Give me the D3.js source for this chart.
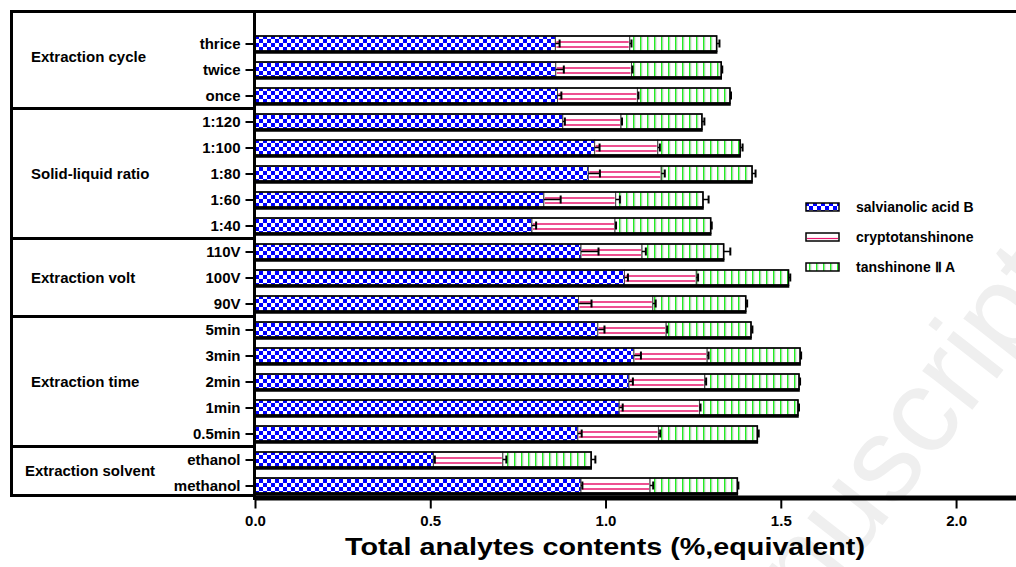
<!DOCTYPE html>
<html>
<head>
<meta charset="utf-8">
<script src="https://cdn.jsdelivr.net/npm/d3@7"></script>
<style>
  body { margin: 0; background: #fff; }
  svg { display: block; font-family: "Liberation Sans", Arial, sans-serif; font-weight: bold; }
</style>
</head>
<body>
<svg id="chart" width="1016" height="567"></svg>
<script>
"use strict";

// rows, top to bottom
const categories = ["thrice", "twice", "once", "1:120", "1:100", "1:80", "1:60", "1:40",
	"110V", "100V", "90V", "5min", "3min", "2min", "1min", "0.5min", "ethanol", "methanol"];
const groupNames = ["Extraction cycle", "Solid-liquid ratio", "Extraction volt", "Extraction time", "Extraction solvent"];
const groupSizes = [3, 5, 3, 5, 2];

// segment values (%), stacked left to right
const salvianolicB = [0.857, 0.858, 0.863, 0.878, 0.969, 0.951, 0.824, 0.790,
	0.930, 1.054, 0.923, 0.978, 1.081, 1.067, 1.039, 0.921, 0.509, 0.930];
const cryptotanshinone = [0.212, 0.216, 0.228, 0.166, 0.180, 0.208, 0.205, 0.237,
	0.174, 0.205, 0.212, 0.195, 0.209, 0.216, 0.229, 0.230, 0.198, 0.197];
const tanshinoneIIA = [0.248, 0.256, 0.264, 0.231, 0.235, 0.259, 0.249, 0.273,
	0.233, 0.263, 0.265, 0.242, 0.265, 0.269, 0.281, 0.282, 0.252, 0.249];

// error bars (positive side only)
const salvianolicBErr = [0.012, 0.023, 0.011, 0.006, 0.014, 0.033, 0.048, 0.012,
	0.050, 0.010, 0.037, 0.019, 0.020, 0.011, 0.010, 0.011, 0.004, 0.004];
const cryptotanshinoneErr = [0.005, 0.003, 0.003, 0.003, 0.006, 0.010, 0.012, 0.003,
	0.011, 0.005, 0.008, 0.003, 0.004, 0.004, 0.003, 0.005, 0.010, 0.009];
const tanshinoneIIAErr = [0.008, 0.003, 0.003, 0.007, 0.007, 0.010, 0.016, 0.003,
	0.019, 0.005, 0.004, 0.004, 0.003, 0.003, 0.003, 0.004, 0.012, 0.003];

const xTicks = [0, 0.5, 1.0, 1.5, 2.0];
const seriesKeys = ["salvianolic acid B", "cryptotanshinone", "tanshinone \u2161 A"];

const rows = categories.map(function(c, i) {
	return {
		cat: c,
		"salvianolic acid B": salvianolicB[i],
		"cryptotanshinone": cryptotanshinone[i],
		"tanshinone \u2161 A": tanshinoneIIA[i],
		err: [salvianolicBErr[i], cryptotanshinoneErr[i], tanshinoneIIAErr[i]]
	};
});

const svg = d3.select("#chart");
const W = 1016, H = 567;
const barH = 15;

const x = d3.scaleLinear().domain([0, 2.171]).range([255, W]);
const y = d3.scalePoint().domain(categories).range([43.5, 485.5]);

// faint watermark (runs off the edge, as in the source)
svg.append("text")
	.attr("transform", "translate(1070,285) rotate(-52)")
	.attr("text-anchor", "end")
	.style("font-size", "120px")
	.style("font-weight", "normal")
	.attr("fill", "#efefef")
	.text("Manuscript");

// patterns
const defs = svg.append("defs");
const checker = defs.append("pattern").attr("id", "checker")
	.attr("patternUnits", "userSpaceOnUse").attr("width", 8).attr("height", 8)
	.attr("x", 255).attr("y", 35);
checker.append("rect").attr("width", 8).attr("height", 8).attr("fill", "#fff");
checker.append("rect").attr("width", 4).attr("height", 4).attr("fill", "#0000ff");
checker.append("rect").attr("x", 4).attr("y", 4).attr("width", 4).attr("height", 4).attr("fill", "#0000ff");

const vlines = defs.append("pattern").attr("id", "vlines")
	.attr("patternUnits", "userSpaceOnUse").attr("width", 7).attr("height", 10);
vlines.append("rect").attr("width", 7).attr("height", 10).attr("fill", "#fff");
vlines.append("rect").attr("x", 3).attr("width", 1.6).attr("height", 10).attr("fill", "#22ee22");
vlines.append("rect").attr("x", 4.6).attr("width", 0.8).attr("height", 10).attr("fill", "#cccccc");

const fills = ["url(#checker)", "#fff", "url(#vlines)"];
const pink = "#e8166c";

// stacked segments
const stacked = d3.stack().keys(seriesKeys)(rows);

const seg = svg.append("g").selectAll("g")
	.data(stacked)
	.join("g");

seg.each(function(s, si) {
	const g = d3.select(this);
	g.selectAll("rect")
		.data(s)
		.join("rect")
		.attr("x", d => x(d[0]))
		.attr("y", d => y(d.data.cat) - barH / 2)
		.attr("width", d => x(d[1]) - x(d[0]))
		.attr("height", barH)
		.attr("fill", fills[si])
		.attr("stroke", "#444")
		.attr("stroke-width", 1);
	if (si === 1) {
		// two pink rules through the cryptotanshinone segment
		[-1.5, 3.5].forEach(function(off) {
			g.selectAll(null)
				.data(s)
				.join("line")
				.attr("x1", d => x(d[0]) + 1)
				.attr("x2", d => x(d[1]) - 1)
				.attr("y1", d => y(d.data.cat) + off)
				.attr("y2", d => y(d.data.cat) + off)
				.attr("stroke", pink)
				.attr("stroke-width", 1.5);
		});
	}
});

// outer outline for each whole bar, thicker at the bottom
const outline = svg.append("g");
outline.selectAll("rect")
	.data(rows)
	.join("rect")
	.attr("x", x(0))
	.attr("y", d => y(d.cat) - barH / 2)
	.attr("width", (d, i) => x(stacked[2][i][1]) - x(0))
	.attr("height", barH)
	.attr("fill", "none")
	.attr("stroke", "#000")
	.attr("stroke-width", 1.6);
outline.selectAll("line")
	.data(rows)
	.join("line")
	.attr("x1", x(0))
	.attr("x2", (d, i) => x(stacked[2][i][1]) + 0.8)
	.attr("y1", d => y(d.cat) + barH / 2 + 1.2)
	.attr("y2", d => y(d.cat) + barH / 2 + 1.2)
	.attr("stroke", "#000")
	.attr("stroke-width", 3);

// error bars at the end of every segment
const errG = svg.append("g").attr("stroke", "#000").attr("stroke-width", 1.5);
stacked.forEach(function(s, si) {
	s.forEach(function(d, i) {
		const cy = y(d.data.cat);
		const x0 = x(d[1]), x1 = x(d[1] + d.data.err[si]);
		errG.append("line").attr("x1", x0).attr("x2", x1).attr("y1", cy).attr("y2", cy);
		errG.append("line").attr("x1", x1).attr("x2", x1).attr("y1", cy - 4).attr("y2", cy + 4)
			.attr("stroke-width", 2);
	});
});

// x axis
const xAxis = svg.append("g")
	.attr("transform", "translate(0,497.5)")
	.call(d3.axisBottom(x).tickValues(xTicks).tickFormat(d3.format(".1f"))
		.tickSize(11).tickSizeOuter(0).tickPadding(7));
xAxis.select(".domain").attr("stroke-width", 5);
xAxis.selectAll(".tick line").attr("stroke-width", 2);
xAxis.selectAll(".tick text")
	.style("font-size", "15px")
	.style("font-family", "'Liberation Sans', Arial, sans-serif")
	.style("font-weight", "bold")
	.attr("fill", "#000");

// y axis
const yAxis = svg.append("g")
	.attr("transform", "translate(254.5,0)")
	.call(d3.axisLeft(y).tickSize(9).tickPadding(5));
yAxis.select(".domain").remove();
yAxis.selectAll(".tick line").attr("stroke-width", 2);
yAxis.selectAll(".tick text")
	.style("font-size", "15px")
	.style("font-family", "'Liberation Sans', Arial, sans-serif")
	.style("font-weight", "bold")
	.attr("fill", "#000");

svg.append("line")
	.attr("x1", 254.5).attr("x2", 254.5).attr("y1", 10).attr("y2", 500)
	.attr("stroke", "#000").attr("stroke-width", 3);

// left panel frame and group separators
const frame = svg.append("g").attr("stroke", "#000").attr("stroke-width", 3);
frame.append("line").attr("x1", 10).attr("x2", W).attr("y1", 11.5).attr("y2", 11.5);
frame.append("line").attr("x1", 11.5).attr("x2", 11.5).attr("y1", 10).attr("y2", 497);
frame.append("line").attr("x1", 10).attr("x2", 255).attr("y1", 495.5).attr("y2", 495.5);

let start = 0;
const bounds = [11.5];
groupSizes.forEach(function(n, gi) {
	const last = start + n - 1;
	if (gi < groupSizes.length - 1) {
		const yb = (y(categories[last]) + y(categories[last + 1])) / 2;
		bounds.push(yb);
		frame.append("line").attr("x1", 10).attr("x2", 255).attr("y1", yb).attr("y2", yb);
	}
	start += n;
});
bounds.push(495.5);

svg.append("g").selectAll("text")
	.data(groupNames)
	.join("text")
	.attr("x", (d, i) => i === 4 ? 25 : 31)
	.attr("y", (d, i) => (bounds[i] + bounds[i + 1]) / 2 - (i === 0 ? 3 : 0))
	.attr("dy", "0.35em")
	.style("font-size", "15px")
	.text(d => d);

// legend
const legend = svg.append("g").attr("transform", "translate(806,207)");
const item = legend.selectAll("g")
	.data(seriesKeys)
	.join("g")
	.attr("transform", (d, i) => "translate(0," + i * 30 + ")");
item.append("rect")
	.attr("x", 0).attr("y", -4).attr("width", 33).attr("height", 8)
	.attr("fill", (d, i) => fills[i])
	.attr("stroke", "#000").attr("stroke-width", 1.5);
item.filter((d, i) => i === 1).append("line")
	.attr("x1", 1).attr("x2", 32).attr("y1", 1.5).attr("y2", 1.5)
	.attr("stroke", pink).attr("stroke-width", 1.2);
item.append("text")
	.attr("x", 50).attr("dy", "0.35em")
	.style("font-size", "14px")
	.text(d => d);

// axis title
svg.append("text")
	.attr("x", 345).attr("y", 555)
	.attr("textLength", 520).attr("lengthAdjust", "spacingAndGlyphs")
	.style("font-size", "23px")
	.text("Total analytes contents (%,equivalent)");
</script>
</body>
</html>
